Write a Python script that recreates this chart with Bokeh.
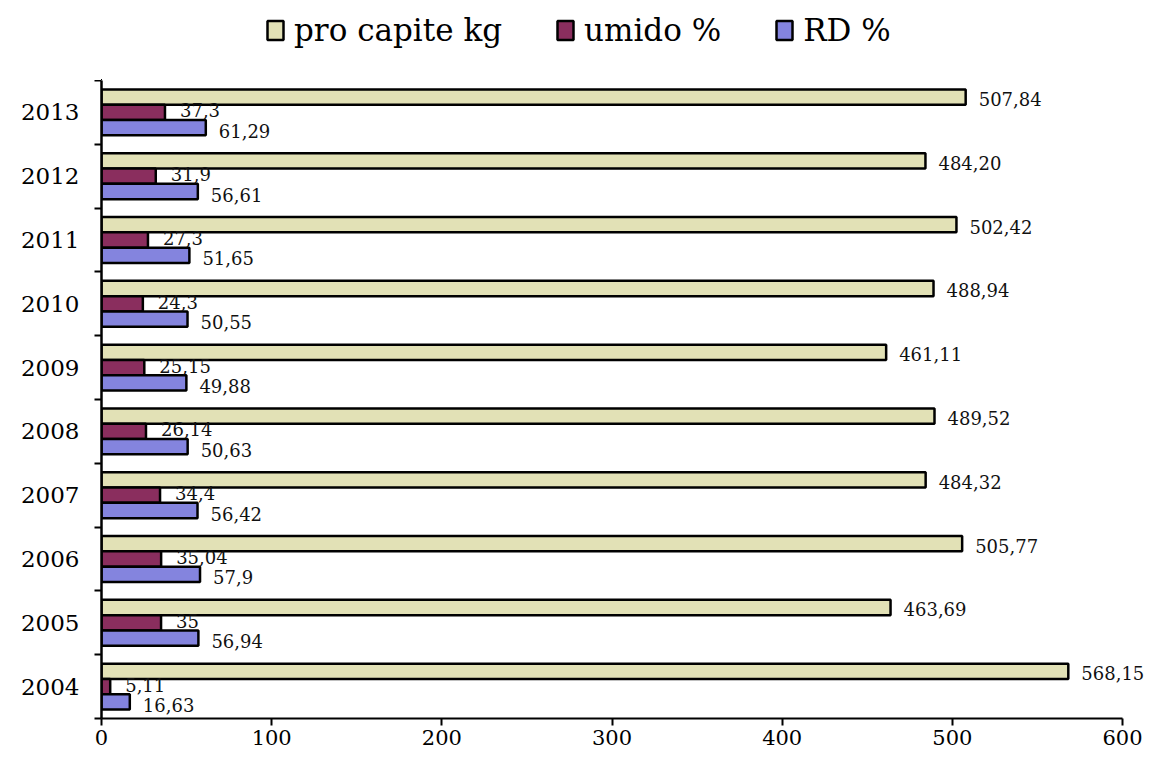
from bokeh.plotting import figure
from bokeh.layouts import column
from bokeh.models import (ColumnDataSource, Range1d, FixedTicker, Legend, LegendItem)
from bokeh.transform import dodge
from bokeh.core.properties import value
from bokeh.embed import file_html
from bokeh.resources import INLINE

years = ["2004", "2005", "2006", "2007", "2008", "2009", "2010", "2011", "2012", "2013"]
pro_capite = [568.15, 463.69, 505.77, 484.32, 489.52, 461.11, 488.94, 502.42, 484.20, 507.84]
umido = [5.11, 35, 35.04, 34.4, 26.14, 25.15, 24.3, 27.3, 31.9, 37.3]
rd = [16.63, 56.94, 57.9, 56.42, 50.63, 49.88, 50.55, 51.65, 56.61, 61.29]
x_ticks = [0, 100, 200, 300, 400, 500, 600]

pro_labels = ["568,15", "463,69", "505,77", "484,32", "489,52", "461,11", "488,94", "502,42", "484,20", "507,84"]
umido_labels = ["5,11", "35", "35,04", "34,4", "26,14", "25,15", "24,3", "27,3", "31,9", "37,3"]
rd_labels = ["16,63", "56,94", "57,9", "56,42", "50,63", "49,88", "50,55", "51,65", "56,61", "61,29"]
series_names = ["pro capite kg", "umido %", "RD %"]

src = ColumnDataSource(dict(
    idx=list(range(len(years))),
    pro=pro_capite, umido=umido, rd=rd,
    pro_lbl=pro_labels, umido_lbl=umido_labels, rd_lbl=rd_labels,
))

SERIF = "DejaVu Serif"
C_PRO = "#E2E1B6"
C_UM = "#8A2E5E"
C_RD = "#8484DE"
BH = 0.24

W = 1151
LEG_H = 80
MAIN_H = 753 - LEG_H
LEFT = 101
PX_PER_UNIT = (1122 - LEFT) / 600.0
X_END = (W - LEFT) / PX_PER_UNIT
FRAME_H = 638

# ---------- main chart ----------
p = figure(width=W, height=MAIN_H, output_backend="svg", toolbar_location=None,
           x_range=Range1d(0, X_END), y_range=Range1d(-0.5, 9.5),
           min_border_left=LEFT, min_border_right=0, min_border_top=0,
           min_border_bottom=MAIN_H - FRAME_H)
p.outline_line_color = None
p.xgrid.visible = False
p.ygrid.visible = False

bar_kw = dict(source=src, line_color="black", line_width=2.5, left=0, height=BH)
r_pro = p.hbar(y=dodge("idx", BH, range=p.y_range), right="pro", fill_color=C_PRO, **bar_kw)
r_um = p.hbar(y=dodge("idx", 0, range=p.y_range), right="umido", fill_color=C_UM, **bar_kw)
r_rd = p.hbar(y=dodge("idx", -BH, range=p.y_range), right="rd", fill_color=C_RD, **bar_kw)

for col, lbl, off, xo, yo in [("pro", "pro_lbl", BH, 13, 2), ("umido", "umido_lbl", 0, 15, -2),
                              ("rd", "rd_lbl", -BH, 13, 3)]:
    p.text(x=col, y=dodge("idx", off, range=p.y_range), text=lbl, source=src,
           x_offset=xo, y_offset=yo, text_baseline="middle", text_align="left",
           text_font=value(SERIF), text_font_size="18px", text_color="#111111")

p.xaxis.ticker = FixedTicker(ticks=x_ticks)
p.xaxis.bounds = (0, 600)
p.xaxis.axis_line_color = "black"
p.xaxis.axis_line_width = 2
p.xaxis.major_tick_line_width = 2
p.xaxis.major_tick_in = 0
p.xaxis.major_tick_out = 7
p.xaxis.minor_tick_line_color = None
p.xaxis.major_label_text_font = SERIF
p.xaxis.major_label_text_font_size = "21px"
p.xaxis.major_label_text_color = "black"
p.xaxis.major_label_standoff = 4

p.yaxis.ticker = FixedTicker(ticks=list(range(len(years))),
                             minor_ticks=[i - 0.5 for i in range(len(years) + 1)])
p.yaxis.major_label_overrides = {i: y for i, y in enumerate(years)}
p.yaxis.major_tick_line_color = None
p.yaxis.minor_tick_line_color = "black"
p.yaxis.minor_tick_line_width = 2
p.yaxis.minor_tick_in = 0
p.yaxis.minor_tick_out = 7
p.yaxis.axis_line_color = "black"
p.yaxis.axis_line_width = 2.5
p.yaxis.major_label_text_font = SERIF
p.yaxis.major_label_text_font_size = "23px"
p.yaxis.major_label_text_color = "black"
p.yaxis.major_label_standoff = 15

# ---------- legend strip ----------
lg = figure(width=W, height=LEG_H, output_backend="svg", toolbar_location=None,
            x_range=Range1d(1000, 1001), y_range=Range1d(100, 101),
            x_axis_location=None, y_axis_location=None,
            min_border_left=0, min_border_right=0, min_border_top=0, min_border_bottom=0)
lg.outline_line_color = None
lg.xgrid.visible = False
lg.ygrid.visible = False
lkw = dict(source=src, line_color="black", line_width=2.5, left=0, height=BH)
l_pro = lg.hbar(y="idx", right="pro", fill_color=C_PRO, **lkw)
l_um = lg.hbar(y="idx", right="umido", fill_color=C_UM, **lkw)
l_rd = lg.hbar(y="idx", right="rd", fill_color=C_RD, **lkw)

legend = Legend(items=[
    LegendItem(label=series_names[0], renderers=[l_pro]),
    LegendItem(label=series_names[1], renderers=[l_um]),
    LegendItem(label=series_names[2], renderers=[l_rd]),
], orientation="horizontal", location=(164, 32))
legend.label_text_font = SERIF
legend.label_text_font_size = "31px"
legend.label_text_color = "black"
legend.glyph_width = 20
legend.glyph_height = 24
legend.label_standoff = 9
legend.spacing = 53
legend.padding = 0
legend.margin = 0
legend.border_line_color = None
legend.background_fill_alpha = 0
lg.add_layout(legend, "center")

layout = column(lg, p, spacing=0)
open("out.html", "w").write(file_html(layout, INLINE))
